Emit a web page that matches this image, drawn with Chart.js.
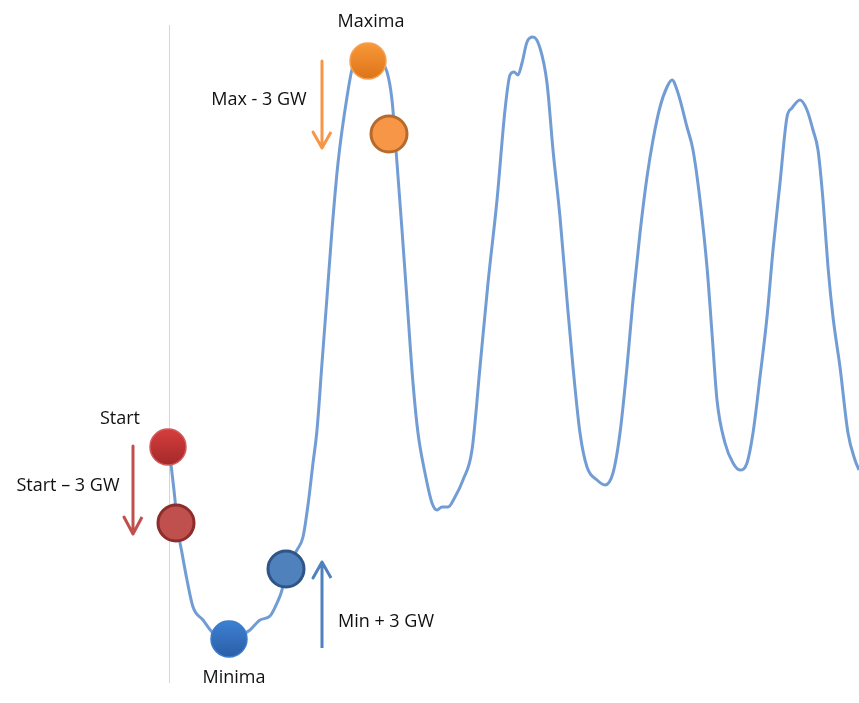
<!DOCTYPE html>
<html>
<head>
<meta charset="utf-8">
<script src="https://cdn.jsdelivr.net/npm/chart.js@4/dist/chart.umd.min.js"></script>
<style>
  html, body { margin: 0; padding: 0; background: #fff; }
  #wrap { width: 859px; height: 703px; }
</style>
</head>
<body>
<div id="wrap"><canvas id="chart" width="859" height="703"></canvas></div>
<script>
// Data (x = time, y = power, arbitrary units)
const curveX = [169, 172, 175, 177, 182, 187, 193, 203, 213, 229, 240, 250, 260, 270, 277, 282, 286, 297, 303, 308, 313, 317, 322, 327, 332, 338, 347, 353, 360, 368, 377, 387, 392, 397, 402, 407, 413, 418, 425, 432, 437, 442, 448, 455, 463, 472, 480, 488, 497, 505, 510, 514, 518, 522, 527, 533, 540, 547, 553, 560, 567, 573, 580, 587, 597, 605, 613, 620, 627, 633, 640, 647, 653, 660, 667, 672, 678, 687, 693, 700, 707, 712, 717, 725, 733, 740, 747, 753, 760, 767, 773, 780, 787, 792, 800, 807, 813, 818, 823, 828, 833, 840, 848, 855, 859];
const curveY = [256, 230, 203, 179, 150, 123, 96, 83, 70, 63, 67, 73, 83, 87, 100, 113, 133, 153, 166, 198, 240, 273, 340, 406, 473, 540, 606, 637, 643, 645, 643, 631, 603, 540, 473, 403, 320, 270, 230, 200, 193, 196, 196, 206, 223, 253, 336, 420, 503, 593, 628, 631, 628, 640, 661, 666, 655, 620, 553, 486, 403, 336, 270, 236, 223, 218, 230, 270, 336, 403, 470, 526, 563, 596, 616, 623, 610, 576, 553, 503, 436, 370, 303, 260, 240, 233, 240, 270, 326, 386, 453, 520, 586, 595, 603, 593, 573, 553, 503, 436, 386, 336, 270, 243, 233];

// Marked points: start, start - 3 GW, minima, min + 3 GW, maxima, max - 3 GW
const markerX = [168, 176, 229, 286, 368, 389];
const markerY = [256, 180, 64, 134, 642, 569];

// Start line (vertical)
const startLineX = [169.5, 169.5];
const startLineY = [678, 20];

// Arrows: shaft start, tip, head left, tip, head right
const arrowRedX = [133, 133, 124, 133, 142];
const arrowRedY = [257, 169, 186, 169, 186];
const arrowOrangeX = [322, 322, 313, 322, 331];
const arrowOrangeY = [642, 555, 571, 555, 571];
const arrowBlueX = [322, 322, 313, 322, 331];
const arrowBlueY = [55, 141, 125, 141, 125];

// Labels
const labelText = ["Start", "Start \u2013 3 GW", "Minima", "Min + 3 GW", "Maxima", "Max - 3 GW"];
const labelX = [120, 68, 234, 386, 371, 259];
const labelY = [284, 217, 25, 81, 681, 603];

const zip = (xs, ys) => xs.map((x, i) => ({ x, y: ys[i] }));

const gradFill = (top, bottom, fallback) => (c) => {
  const chart = c.chart;
  if (c.type !== "data" || !chart.scales || !chart.scales.y || !c.parsed) return fallback;
  const py = chart.scales.y.getPixelForValue(c.parsed.y);
  if (!Number.isFinite(py)) return fallback;
  const g = chart.ctx.createLinearGradient(0, py - 18, 0, py + 18);
  g.addColorStop(0, top);
  g.addColorStop(1, bottom);
  return g;
};

const marker = (i, fill, border, width) => ({
  type: "scatter",
  data: [{ x: markerX[i], y: markerY[i] }],
  pointRadius: 18,
  pointHoverRadius: 18,
  backgroundColor: fill,
  borderColor: border,
  borderWidth: width,
  clip: false
});

const arrow = (xs, ys, color) => ({
  type: "line",
  data: zip(xs, ys),
  borderColor: color,
  borderWidth: 3,
  borderJoinStyle: "round",
  borderCapStyle: "butt",
  pointRadius: 0,
  tension: 0,
  clip: false
});

const labelsPlugin = {
  id: "labels",
  afterDatasetsDraw(chart) {
    const { ctx, scales } = chart;
    ctx.save();
    ctx.font = "18px 'Open Sans', sans-serif";
    ctx.fillStyle = "#111";
    ctx.textAlign = "center";
    ctx.textBaseline = "middle";
    labelText.forEach((t, i) => {
      ctx.fillText(t, scales.x.getPixelForValue(labelX[i]), scales.y.getPixelForValue(labelY[i]));
    });
    ctx.restore();
  }
};

new Chart(document.getElementById("chart"), {
  type: "line",
  data: {
    datasets: [
      marker(0, gradFill("#d63c3c", "#a42a2a", "#c0392b"), "#d35a5a", 1.5),
      marker(1, "#c0504d", "#8c2d2b", 3),
      marker(2, gradFill("#3d80d3", "#2b5ea6", "#3470c0"), "#3d7ccb", 1.5),
      marker(3, "#4f81bd", "#2f5485", 3),
      marker(4, gradFill("#f89838", "#dd7418", "#ee8a2c"), "#f5a050", 1.5),
      marker(5, "#f79646", "#b66a2c", 3),
      arrow(arrowRedX, arrowRedY, "#c0504d"),
      arrow(arrowOrangeX, arrowOrangeY, "#f79646"),
      arrow(arrowBlueX, arrowBlueY, "#4f81bd"),
      {
        type: "line",
        data: zip(curveX, curveY),
        borderColor: "rgba(88,140,205,0.85)",
        borderWidth: 3,
        pointRadius: 0,
        tension: 0.35,
        cubicInterpolationMode: "monotone",
        clip: false
      },
      {
        type: "line",
        data: zip(startLineX, startLineY),
        borderColor: "#d6d6d6",
        borderWidth: 1,
        pointRadius: 0,
        tension: 0
      }
    ]
  },
  options: {
    responsive: false,
    animation: false,
    layout: { padding: 0, autoPadding: false },
    scales: {
      x: { type: "linear", min: 0, max: 859, display: false },
      y: { type: "linear", min: 0, max: 703, display: false }
    },
    plugins: {
      legend: { display: false },
      tooltip: { enabled: false }
    }
  },
  plugins: [labelsPlugin]
});
</script>
</body>
</html>
